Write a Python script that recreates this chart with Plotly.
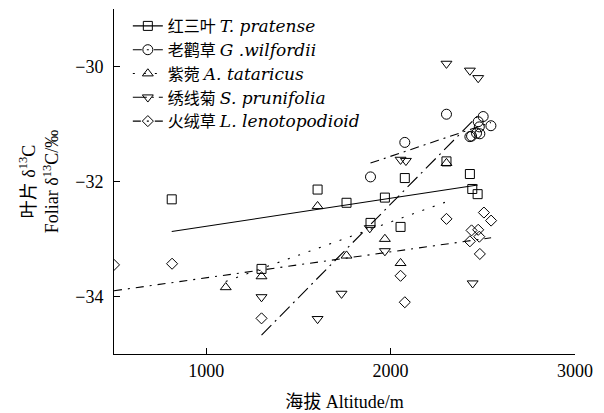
import plotly.graph_objects as go

# Altitude (m) and foliar δ13C (‰) per species
alt_tp = [813, 1300, 1604, 1761, 1891, 1969, 2054, 2077, 2303, 2430, 2443, 2472]
d13_tp = [-32.31, -33.52, -32.14, -32.37, -32.72, -32.28, -32.79, -31.94, -31.65, -31.87, -32.13, -32.22]

alt_gw = [1891, 2077, 2303, 2430, 2439, 2466, 2475, 2481, 2484, 2502, 2544]
d13_gw = [-31.92, -31.32, -30.83, -31.22, -31.21, -31.16, -30.96, -31.05, -31.17, -30.87, -31.03]

alt_at = [1106, 1300, 1604, 1761, 1969, 2054, 2303]
d13_at = [-33.84, -33.65, -32.43, -33.29, -33.00, -33.42, -31.68]

alt_sp = [1300, 1604, 1734, 1887, 1969, 2054, 2083, 2303, 2430, 2445, 2475]
d13_sp = [-34.01, -34.39, -33.95, -32.81, -33.21, -31.62, -31.64, -29.95, -30.07, -33.77, -30.20]

alt_ll = [500, 815, 1300, 2054, 2077, 2303, 2430, 2439, 2475, 2481, 2484, 2506, 2545]
d13_ll = [-33.45, -33.43, -34.38, -33.64, -34.10, -32.65, -33.04, -32.85, -32.84, -32.96, -33.26, -32.54, -32.68]

# Linear fits: δ13C = intercept + slope * altitude
fit_intercept = [-33.266, -33.722, -35.018, -38.895, -34.126]
fit_slope = [0.000487, 0.00108, 0.001157, 0.00325, 0.000451]

cn_names = ["红三叶", "老鹳草", "紫菀", "绣线菊", "火绒草"]
latin_names = ["T. pratense", "G .wilfordii", "A. tataricus", "S. prunifolia", "L. lenotopodioid"]
symbols = ["square-open", "circle-open", "triangle-up-open", "triangle-down-open", "diamond-open"]
sizes = [9, 10, 9.5, 9.5, 8.5]
dashes = ["solid", "9px,5px,2px,5px", "2px,9px", "14px,5px,2px,5px", "8px,6px,2px,6px"]

alts = [alt_tp, alt_gw, alt_at, alt_sp, alt_ll]
vals = [d13_tp, d13_gw, d13_at, d13_sp, d13_ll]

FONT = "Liberation Serif, Noto Sans CJK SC, serif"
ITALIC = "<span style=\"font-family:'DejaVu Serif';font-style:italic;font-size:17px\">{}</span>"
fig = go.Figure()

for i in range(5):
    x0, x1 = min(alts[i]), max(alts[i])
    fig.add_trace(go.Scatter(
        x=[x0, x1], y=[fit_intercept[i] + fit_slope[i] * x0, fit_intercept[i] + fit_slope[i] * x1],
        mode="lines", line=dict(color="black", width=1.1, dash=dashes[i]), showlegend=False))
    fig.add_trace(go.Scatter(
        x=alts[i], y=vals[i], mode="markers",
        marker=dict(symbol=symbols[i], size=sizes[i], color="black", line=dict(color="black", width=1)),
        showlegend=False))
    # legend entry combining the fit line style and the marker
    fig.add_trace(go.Scatter(
        x=[None], y=[None], mode="lines+markers",
        name=cn_names[i] + " " + ITALIC.format(latin_names[i]),
        line=dict(color="black", width=1.1, dash=dashes[i]),
        marker=dict(symbol=symbols[i], size=sizes[i], color="black", line=dict(color="black", width=1))))

fig.update_layout(
    width=604, height=413,
    margin=dict(l=114, r=29, t=9, b=59),
    paper_bgcolor="white", plot_bgcolor="white",
    font=dict(family=FONT, size=18, color="black"),
    showlegend=True,
    legend=dict(x=0.03, y=1.0, xanchor="left", yanchor="top", bgcolor="rgba(0,0,0,0)",
                font=dict(family=FONT, size=16), tracegroupgap=0, itemwidth=30),
    xaxis=dict(range=[500, 3000], tickvals=[1000, 2000, 3000], ticks="inside", ticklen=6,
               tickcolor="black", showline=True, linecolor="black", linewidth=1,
               showgrid=False, zeroline=False, mirror=False, automargin=False,
               title=dict(text="海拔 Altitude/m", font=dict(family=FONT, size=18), standoff=15)),
    yaxis=dict(range=[-35, -29], tickvals=[-30, -32, -34], ticks="inside", ticklen=6,
               tickcolor="black", showline=True, linecolor="black", linewidth=1,
               showgrid=False, zeroline=False, mirror=False, ticklabelstandoff=6, automargin=False,
               title=dict(text="叶片 δ<sup>13</sup>C<br>Foliar δ<sup>13</sup>C/‰",
                          font=dict(family=FONT, size=18), standoff=11)),
)

fig.write_html("out.html")
